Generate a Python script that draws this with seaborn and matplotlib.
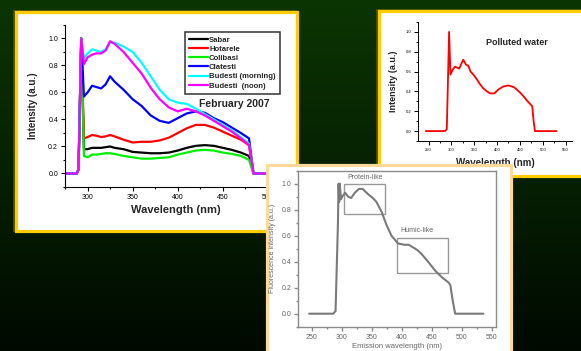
import matplotlib
matplotlib.use("Agg")
import matplotlib.pyplot as plt
from matplotlib.patches import Rectangle
from matplotlib.colors import LinearSegmentedColormap
from matplotlib.ticker import MultipleLocator
import seaborn as sns
import pandas as pd
import numpy as np

# --- panel 1 : February 2007, six sites (shared wavelength grid)
wl = [276, 288, 290, 293, 296, 300, 305, 310, 315, 320, 325, 330, 340, 350, 360,
      370, 380, 390, 400, 410, 420, 430, 440, 450, 460, 470, 479, 484, 500]
sabar = [0, 0, 0.03, 1.0, 0.18, 0.18, 0.19, 0.19, 0.19, 0.195, 0.2, 0.19, 0.18, 0.16, 0.155,
         0.15, 0.15, 0.155, 0.17, 0.19, 0.205, 0.21, 0.205, 0.19, 0.175, 0.155, 0.13, 0, 0]
hotarele = [0, 0, 0.03, 1.0, 0.26, 0.27, 0.285, 0.28, 0.27, 0.275, 0.285, 0.275, 0.25, 0.23, 0.235,
            0.235, 0.245, 0.265, 0.3, 0.335, 0.36, 0.36, 0.34, 0.31, 0.28, 0.25, 0.21, 0, 0]
colibasi = [0, 0, 0.03, 1.0, 0.13, 0.12, 0.14, 0.14, 0.145, 0.15, 0.15, 0.145, 0.13, 0.12, 0.11,
            0.11, 0.115, 0.12, 0.14, 0.155, 0.17, 0.175, 0.17, 0.155, 0.145, 0.13, 0.1, 0, 0]
clatesti = [0, 0, 0.03, 1.0, 0.57, 0.6, 0.65, 0.64, 0.63, 0.66, 0.72, 0.68, 0.62, 0.55, 0.5,
            0.43, 0.39, 0.375, 0.41, 0.445, 0.46, 0.45, 0.41, 0.38, 0.34, 0.3, 0.26, 0, 0]
budesti_m = [0, 0, 0.03, 1.0, 0.85, 0.89, 0.92, 0.91, 0.9, 0.92, 0.97, 0.97, 0.94, 0.9, 0.82,
             0.72, 0.62, 0.55, 0.525, 0.515, 0.48, 0.44, 0.4, 0.36, 0.32, 0.27, 0.22, 0, 0]
budesti_n = [0, 0, 0.03, 1.0, 0.81, 0.86, 0.88, 0.89, 0.89, 0.91, 0.98, 0.96, 0.9, 0.82, 0.74,
             0.635, 0.55, 0.49, 0.46, 0.48, 0.46, 0.43, 0.39, 0.35, 0.31, 0.26, 0.21, 0, 0]
sites = ["Sabar", "Hotarele", "Colibasi", "Clatesti", "Budesti (morning)", "Budesti  (noon)"]
site_colors = ["#000000", "#ff0000", "#00ee00", "#0000ff", "#00ffff", "#ff00ff"]

# --- panel 2 : polluted water
pw_nm = [244, 286, 290, 293, 295, 298, 303, 308, 317, 322, 326, 332, 337, 342, 348, 356, 363,
         370, 378, 385, 394, 403, 414, 425, 432, 438, 450, 458, 465, 477, 480, 483, 530]
pw_val = [0, 0, 0.02, 0.6, 1.0, 0.57, 0.62, 0.65, 0.63, 0.68, 0.72, 0.67, 0.66, 0.6, 0.57, 0.52, 0.47,
          0.43, 0.4, 0.38, 0.38, 0.42, 0.45, 0.46, 0.45, 0.44, 0.39, 0.35, 0.31, 0.25, 0.1, 0, 0]

# --- panel 3 : emission spectrum (protein-like / humic-like)
em_nm = [246, 286, 290, 294, 295, 296, 297, 299, 301, 306, 311, 316, 322, 329, 335, 344, 352, 358,
         367, 375, 383, 394, 405, 412, 419, 426, 433, 444, 456, 467, 478, 481, 485, 489, 536]
em_val = [0, 0, 0.02, 0.7, 1.0, 0.86, 1.0, 0.88, 0.9, 0.93, 0.9, 0.89, 0.93, 0.96, 0.96, 0.92, 0.89,
          0.86, 0.78, 0.68, 0.6, 0.54, 0.53, 0.53, 0.51, 0.49, 0.46, 0.4, 0.33, 0.28, 0.24, 0.22,
          0.1, 0, 0]
region_names = ["Protein-like", "Humic-like"]
region_x = [304, 393]
region_w = [69, 84]
region_y = [0.77, 0.316]
region_h = [0.225, 0.27]
region_lab_x = [339, 426]
region_lab_y = [1.05, 0.637]

sns.set_style("ticks")
plt.rcParams['font.family'] = ['Liberation Sans', 'DejaVu Sans']

W, H = 581, 351
fig = plt.figure(figsize=(W / 100, H / 100), dpi=100)


def pbox(x0, y0, x1, y1):
    # pixel box (from top-left) -> figure fraction rect
    return [x0 / W, 1 - y1 / H, (x1 - x0) / W, (y1 - y0) / H]


# background gradient + panels 1 and 2
bg = fig.add_axes([0, 0, 1, 1])
bg.set_axis_off()
cmap = LinearSegmentedColormap.from_list("bg", ["#0b3502", "#062003", "#000900"])
bg.imshow(np.linspace(0, 1, 256).reshape(-1, 1), cmap=cmap, aspect='auto', extent=[0, 1, 0, 1])
bg.set_xlim(0, 1)
bg.set_ylim(0, 1)
for (x0, y0, x1, y1) in [(15.5, 12, 297, 231), (378.5, 11, 600, 176)]:
    r = pbox(x0 - 1.5, y0 - 1.5, x1, y1)
    bg.add_patch(Rectangle((r[0], r[1]), r[2], r[3], facecolor="none",
                           edgecolor="#5a5200", lw=1.2))
    r = pbox(x0, y0, x1, y1)
    bg.add_patch(Rectangle((r[0], r[1]), r[2], r[3], facecolor="white",
                           edgecolor="#ffcc00", lw=2.3))


def style_axis(ax, lab_size, col="black", lw=0.8):
    ax.set_facecolor("none")
    ax.xaxis.set_major_locator(MultipleLocator(50))
    ax.xaxis.set_minor_locator(MultipleLocator(25))
    ax.yaxis.set_major_locator(MultipleLocator(0.2))
    ax.yaxis.set_minor_locator(MultipleLocator(0.1))
    ax.yaxis.set_major_formatter(plt.FormatStrFormatter("%.1f"))
    ax.tick_params(which="major", length=3, width=lw, labelsize=lab_size, colors=col, pad=2)
    ax.tick_params(which="minor", length=1.5, width=lw, colors=col)
    for s in ax.spines.values():
        s.set_linewidth(lw)
        s.set_color(col)
    ax.set_ylim(-0.1, 1.1)


# panel 1
df1 = pd.DataFrame({
    "nm": wl * 6,
    "val": sabar + hotarele + colibasi + clatesti + budesti_m + budesti_n,
    "site": sum([[s] * len(wl) for s in sites], []),
})
ax1 = fig.add_axes(pbox(65, 25, 286, 187))
sns.lineplot(data=df1, x="nm", y="val", hue="site", hue_order=sites, palette=site_colors,
             estimator=None, sort=False, lw=1.6, ax=ax1)
sns.despine(ax=ax1)
style_axis(ax1, 5)
ax1.set_xlim(275, 520)
ax1.set_xlabel("Wavelength (nm)", fontsize=8, fontweight="bold", labelpad=3)
ax1.set_ylabel("Intensity (a.u.)", fontsize=7, fontweight="bold", labelpad=7)
leg = ax1.legend(loc="upper left", bbox_to_anchor=(185 / W, 1 - 32 / H),
                 bbox_transform=fig.transFigure, prop={"weight": "bold", "size": 5.6},
                 frameon=True, fancybox=False, edgecolor="black", handlelength=2.4,
                 handletextpad=0.15, labelspacing=0.22, borderpad=0.55, borderaxespad=0)
leg.get_frame().set_linewidth(1.1)
for ln in leg.get_lines():
    ln.set_linewidth(1.6)
fig.text(234 / W, 1 - 104 / H, "February 2007", ha="center", va="center",
         fontsize=7.5, fontweight="bold")

# panel 2
df2 = pd.DataFrame({"nm": pw_nm, "val": pw_val})
ax2 = fig.add_axes(pbox(418, 22, 572, 141))
sns.lineplot(data=df2, x="nm", y="val", color="#ff0000", lw=1.3, estimator=None,
             sort=False, ax=ax2)
sns.despine(ax=ax2)
style_axis(ax2, 3, lw=0.7)
ax2.set_xlim(227, 564)
ax2.set_xlabel("Wavelength (nm)", fontsize=7, fontweight="bold", labelpad=4)
ax2.set_ylabel("Intensity (a.u.)", fontsize=6.5, fontweight="bold", labelpad=5)
fig.text(517 / W, 1 - 42.7 / H, "Polluted water", ha="center", va="center",
         fontsize=6.5, fontweight="bold")

# panel 3 (on top)
ov = fig.add_axes([0, 0, 1, 1])
ov.set_zorder(5)
ov.set_axis_off()
ov.set_xlim(0, 1)
ov.set_ylim(0, 1)
r = pbox(266.5, 164.5, 511, 370)
ov.add_patch(Rectangle((r[0], r[1]), r[2], r[3], facecolor="white",
                       edgecolor="#ffd89c", lw=2.3))

gray = "#7a7a7a"
df3 = pd.DataFrame({"nm": em_nm, "val": em_val})
ax3 = fig.add_axes(pbox(298.3, 170.7, 496, 326.7))
ax3.set_zorder(6)
sns.lineplot(data=df3, x="nm", y="val", color=gray, lw=1.5, estimator=None, sort=False, ax=ax3)
style_axis(ax3, 5, col="#8a8a8a", lw=1.0)
ax3.tick_params(labelcolor="#666666")
ax3.set_xlim(228, 557)
ax3.set_xlabel("Emission wavelength (nm)", fontsize=5.5, color="#666666", labelpad=2)
ax3.set_ylabel("Fluorescence intensity (a.u.)", fontsize=5, color="#666666", labelpad=4)
for nm_, w_, y_, h_, lx, ly, name in zip(region_x, region_w, region_y, region_h,
                                          region_lab_x, region_lab_y, region_names):
    ax3.add_patch(Rectangle((nm_, y_), w_, h_, fill=False, edgecolor="#999999", lw=1))
    ax3.text(lx, ly, name, ha="center", va="center", fontsize=5, color="#666666")

fig.savefig("out.png", dpi=100)
